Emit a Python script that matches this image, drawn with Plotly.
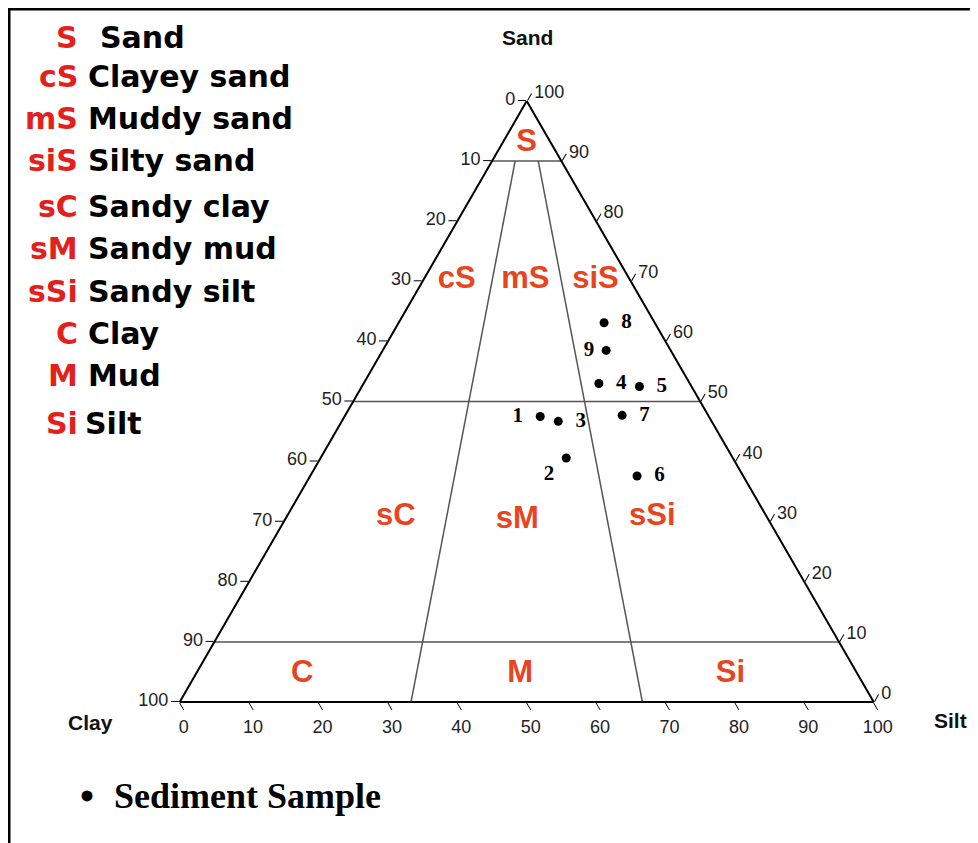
import plotly.graph_objects as go

# ---------------- data ----------------
sample_ids = ["1", "2", "3", "4", "5", "6", "7", "8", "9"]
sample_sand = [47.5, 40.6, 46.7, 53.0, 52.5, 37.6, 47.7, 63.1, 58.5]
sample_silt = [28.2, 35.4, 31.2, 33.9, 40.0, 47.1, 39.9, 29.6, 32.2]
sample_clay = [24.3, 24.0, 22.1, 13.1, 7.5, 15.3, 12.4, 7.3, 9.3]
sample_textpos = ["middle left", "bottom left", "middle right", "middle right",
                  "middle right", "middle right", "middle right", "middle right", "middle left"]
sample_pad = [2, 1, 2, 2, 2, 2, 2, 2, 1]

class_codes = ["S", "cS", "mS", "siS", "sC", "sM", "sSi", "C", "M", "Si"]
class_names = ["Sand", "Clayey sand", "Muddy sand", "Silty sand", "Sandy clay",
               "Sandy mud", "Sandy silt", "Clay", "Mud", "Silt"]
class_sand = [93.0, 70.2, 70.2, 70.2, 30.7, 30.3, 30.8, 4.7, 4.7, 4.7]
class_silt = [3.5, 4.8, 14.7, 24.8, 15.8, 33.5, 52.7, 15.3, 46.7, 77.0]
class_clay = [100 - a - s for a, s in zip(class_sand, class_silt)]

sand_levels = [90, 50, 10]              # horizontal class boundaries (% sand)
silt_fractions = [1 / 3, 2 / 3]         # silt/(silt+clay) boundaries
ratio_top_sand = 90                     # ratio lines start at the 90 % sand line

tick_vals = list(range(0, 101, 10))
tick_text = [str(100 - v) for v in tick_vals]

# ---------------- styles / layout constants ----------------
OFF = 8                      # default page margin of the browser body
FW, FH = 978 - OFF, 843 - OFF
RED_LEG = "#e3201c"
RED_CLS = "#e8441e"
SANS = "Arial, Liberation Sans, sans-serif"
SANS_WIDE = "DejaVu Sans, sans-serif"
SERIF = "Times New Roman, Liberation Serif, serif"
legend_row_y = [37, 77, 118, 160, 206, 248, 291, 333, 375, 423]
legend_name_x = [98, 86, 86, 86, 86, 86, 86, 86, 86, 83]
PAD = "\u00a0"

def px(x):
    return (x - OFF) / FW

def py(y):
    return 1 - (y - OFF) / FH

fig = go.Figure()

# class boundary lines
for s in sand_levels:
    fig.add_trace(go.Scatterternary(
        a=[s, s], b=[100 - s, 0], c=[0, 100 - s], mode="lines",
        line=dict(color="#555555", width=1.5), hoverinfo="skip", showlegend=False))
for f in silt_fractions:
    r = 100 - ratio_top_sand
    fig.add_trace(go.Scatterternary(
        a=[ratio_top_sand, 0], b=[r * (1 - f), 100 * (1 - f)], c=[r * f, 100 * f],
        mode="lines", line=dict(color="#555555", width=1.5),
        hoverinfo="skip", showlegend=False))

# class labels
fig.add_trace(go.Scatterternary(
    a=class_sand, b=class_clay, c=class_silt, mode="text", text=class_codes,
    textposition="middle center",
    textfont=dict(family=SANS, size=31, color=RED_CLS, weight="bold"),
    hoverinfo="skip", showlegend=False))

# samples
labels = []
for t, pos, n in zip(sample_ids, sample_textpos, sample_pad):
    if pos.endswith("left"):
        labels.append("<b>%s</b>%s" % (t, PAD * n))
    else:
        labels.append("%s<b>%s</b>" % (PAD * n, t))
fig.add_trace(go.Scatterternary(
    a=sample_sand, b=sample_clay, c=sample_silt, mode="markers+text",
    text=labels, textposition=sample_textpos,
    marker=dict(color="black", size=9),
    textfont=dict(family=SERIF, size=21, color="black"),
    name="Sediment Sample", showlegend=False))

axis_common = dict(
    tickmode="array", tickvals=tick_vals, ticktext=tick_text,
    ticks="outside", ticklen=8, tickcolor="black", tickwidth=1.2,
    linecolor="black", linewidth=2, showgrid=False,
    tickfont=dict(family=SANS, size=18, color="#222222"), title=dict(text=""))

fig.update_layout(
    width=FW, height=FH, margin=dict(l=0, r=0, t=0, b=0),
    paper_bgcolor="white", showlegend=False,
    ternary=dict(
        sum=100, bgcolor="white",
        domain=dict(x=[px(179.7), px(873.7)], y=[py(702), py(101)]),
        aaxis=axis_common, baxis=axis_common, caxis=axis_common),
)

ann = []
# legend of classes
for code, name, y, xn in zip(class_codes, class_names, legend_row_y, legend_name_x):
    ann.append(dict(x=px(80), y=py(y), xref="paper", yref="paper", xanchor="right",
                    yanchor="middle", text="<b>%s</b>" % code, showarrow=False,
                    font=dict(family=SANS_WIDE, size=30, color=RED_LEG)))
    ann.append(dict(x=px(xn), y=py(y), xref="paper", yref="paper", xanchor="left",
                    yanchor="middle", text="<b>%s</b>" % name, showarrow=False,
                    font=dict(family=SANS_WIDE, size=30, color="black")))
# corner titles
for txt, x, y in [("Sand", 527, 38), ("Clay", 90, 722), ("Silt", 950, 720)]:
    ann.append(dict(x=px(x), y=py(y), xref="paper", yref="paper", xanchor="center",
                    yanchor="middle", text="<b>%s</b>" % txt, showarrow=False,
                    font=dict(family=SANS, size=21, color="#111111")))
# sample key
ann.append(dict(x=px(87), y=py(796), xref="paper", yref="paper", xanchor="center",
                yanchor="middle", text="<b>•</b>", showarrow=False,
                font=dict(family=SERIF, size=40, color="black")))
ann.append(dict(x=px(112), y=py(796), xref="paper", yref="paper", xanchor="left",
                yanchor="middle", text="<b>Sediment Sample</b>", showarrow=False,
                font=dict(family=SERIF, size=36, color="black")))
fig.update_layout(annotations=ann)

# outer frame (left and top edges visible)
fig.add_shape(type="rect", xref="paper", yref="paper",
              x0=px(9), x1=1.05, y0=-0.05, y1=py(9),
              line=dict(color="black", width=3))

fig.write_html("out.html")
